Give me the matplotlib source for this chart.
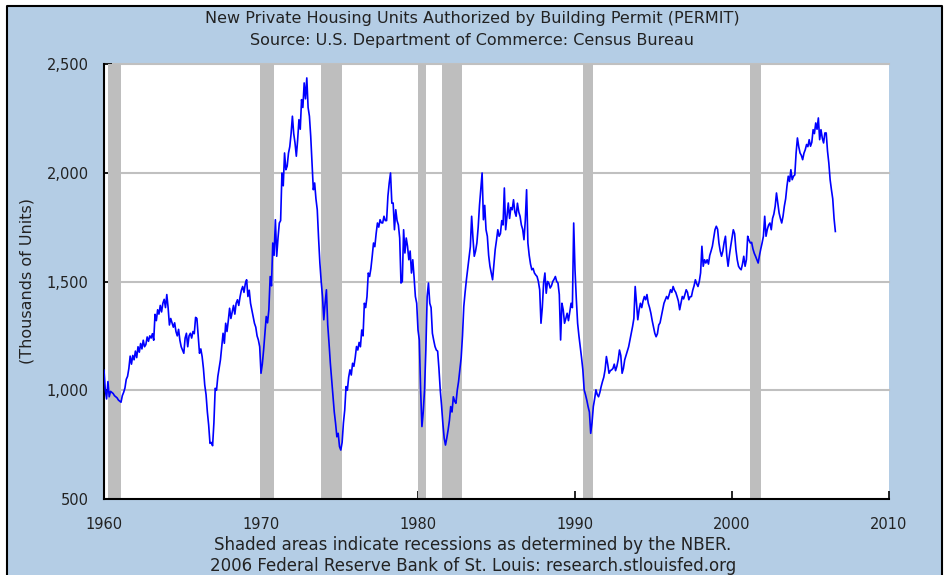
import matplotlib
matplotlib.use("Agg")
import matplotlib.pyplot as plt
import numpy as np
from matplotlib.patches import Rectangle
from matplotlib.ticker import FuncFormatter

# monthly permits, thousands of units, Jan 1960 .. Aug 2006
permits = [
    1092, 1000, 960, 1040, 970, 995, 990, 985, 975, 970, 965, 955,        # 1960
    950, 945, 975, 990, 1010, 1050, 1064, 1100, 1157, 1120, 1160, 1140,   # 1961
    1180, 1150, 1200, 1175, 1215, 1190, 1230, 1200, 1210, 1245, 1225, 1250,  # 1962
    1240, 1260, 1230, 1349, 1320, 1370, 1350, 1390, 1360, 1400, 1418, 1380,  # 1963
    1440, 1380, 1300, 1330, 1310, 1290, 1310, 1270, 1250, 1280, 1230, 1200,  # 1964
    1185, 1170, 1240, 1262, 1200, 1250, 1262, 1240, 1270, 1260, 1335, 1330,  # 1965
    1250, 1170, 1190, 1155, 1100, 1024, 980, 900, 840, 756, 760, 745,     # 1966
    850, 1009, 1000, 1063, 1100, 1140, 1200, 1262, 1216, 1308, 1270, 1320,  # 1967
    1377, 1330, 1360, 1390, 1350, 1400, 1416, 1390, 1430, 1460, 1477, 1450,  # 1968
    1490, 1508, 1431, 1460, 1400, 1370, 1340, 1308, 1290, 1250, 1231, 1200,  # 1969
    1078, 1120, 1185, 1260, 1339, 1310, 1370, 1523, 1480, 1677, 1620, 1784,  # 1970
    1616, 1700, 1769, 1780, 1999, 1940, 2091, 2014, 2030, 2090, 2120, 2180,  # 1971
    2260, 2180, 2137, 2076, 2150, 2244, 2200, 2336, 2300, 2413, 2340, 2436,  # 1972
    2300, 2260, 2168, 2050, 1922, 1953, 1880, 1830, 1700, 1585, 1500, 1431,  # 1973
    1324, 1400, 1462, 1300, 1216, 1124, 1050, 970, 900, 848, 786, 802,    # 1974
    741, 725, 760, 850, 909, 1017, 1000, 1060, 1094, 1070, 1124, 1110,    # 1975
    1150, 1201, 1185, 1220, 1200, 1277, 1250, 1400, 1380, 1430, 1539, 1523,  # 1976
    1560, 1616, 1677, 1660, 1720, 1769, 1750, 1784, 1770, 1769, 1800, 1780,  # 1977
    1780, 1892, 1953, 1999, 1860, 1861, 1738, 1830, 1780, 1760, 1700, 1493,  # 1978
    1500, 1738, 1631, 1700, 1662, 1600, 1640, 1539, 1600, 1520, 1431, 1400,  # 1979
    1277, 1231, 1002, 833, 900, 1002, 1185, 1431, 1493, 1400, 1380, 1262,  # 1980
    1230, 1201, 1185, 1180, 1100, 1002, 930, 848, 780, 748, 780, 817,     # 1981
    860, 925, 900, 970, 950, 940, 1000, 1040, 1094, 1150, 1250, 1385,     # 1982
    1450, 1508, 1560, 1616, 1660, 1800, 1700, 1616, 1640, 1677, 1750, 1850,  # 1983
    1922, 1999, 1784, 1850, 1738, 1708, 1620, 1570, 1540, 1508, 1580, 1647,  # 1984
    1690, 1738, 1708, 1720, 1780, 1760, 1930, 1738, 1800, 1861, 1790, 1840,  # 1985
    1830, 1876, 1820, 1800, 1860, 1820, 1800, 1760, 1740, 1692, 1780, 1922,  # 1986
    1677, 1620, 1580, 1554, 1560, 1539, 1530, 1523, 1500, 1462, 1308, 1380,  # 1987
    1493, 1539, 1446, 1500, 1493, 1470, 1480, 1500, 1510, 1523, 1500, 1493,  # 1988
    1440, 1231, 1400, 1370, 1308, 1330, 1354, 1320, 1360, 1400, 1380, 1769,  # 1989
    1554, 1420, 1308, 1250, 1201, 1150, 1094, 1002, 980, 955, 925, 900,   # 1990
    802, 850, 925, 960, 1002, 980, 970, 990, 1017, 1040, 1060, 1094,      # 1991
    1155, 1120, 1078, 1090, 1094, 1100, 1120, 1090, 1110, 1140, 1185, 1160,  # 1992
    1078, 1100, 1140, 1160, 1180, 1200, 1231, 1260, 1293, 1330, 1477, 1400,  # 1993
    1324, 1370, 1400, 1380, 1410, 1431, 1416, 1440, 1400, 1380, 1354, 1320,  # 1994
    1290, 1262, 1246, 1260, 1300, 1310, 1339, 1370, 1400, 1416, 1431, 1420,  # 1995
    1440, 1462, 1450, 1477, 1460, 1450, 1431, 1410, 1370, 1400, 1431, 1420,  # 1996
    1440, 1462, 1450, 1416, 1430, 1431, 1460, 1480, 1508, 1490, 1477, 1500,  # 1997
    1540, 1662, 1570, 1600, 1585, 1600, 1580, 1620, 1640, 1662, 1700, 1738,  # 1998
    1754, 1740, 1677, 1640, 1616, 1640, 1680, 1708, 1620, 1570, 1620, 1662,  # 1999
    1700, 1738, 1720, 1647, 1600, 1570, 1560, 1554, 1580, 1616, 1570, 1600,  # 2000
    1708, 1690, 1677, 1680, 1650, 1630, 1616, 1600, 1585, 1620, 1650, 1677,  # 2001
    1708, 1800, 1708, 1740, 1760, 1769, 1738, 1790, 1810, 1846, 1907, 1860,  # 2002
    1815, 1790, 1769, 1800, 1846, 1880, 1938, 1984, 1960, 2014, 1968, 1984,  # 2003
    1990, 2091, 2160, 2120, 2091, 2080, 2060, 2090, 2106, 2130, 2120, 2152,  # 2004
    2122, 2140, 2198, 2180, 2229, 2200, 2252, 2152, 2198, 2160, 2137, 2183,  # 2005
    2183, 2100, 2045, 1968, 1922, 1880, 1790, 1730,                       # 2006
]
start_year = 1960

# NBER recessions (start, end) as decimal years
rec_start = [1960 + 3/12, 1969 + 11/12, 1973 + 10/12, 1980.0, 1981 + 6/12, 1990 + 6/12, 2001 + 2/12]
rec_end = [1961 + 1/12, 1970 + 10/12, 1975 + 2/12, 1980 + 6/12, 1982 + 10/12, 1991 + 2/12, 2001 + 10/12]

x_ticks = [1960, 1970, 1980, 1990, 2000, 2010]
y_ticks = [500, 1000, 1500, 2000, 2500]

title1 = "New Private Housing Units Authorized by Building Permit (PERMIT)"
title2 = "Source: U.S. Department of Commerce: Census Bureau"
note1 = "Shaded areas indicate recessions as determined by the NBER."
note2 = "2006 Federal Reserve Bank of St. Louis: research.stlouisfed.org"

bg = "#b4cde5"
txt = "#222222"

fig = plt.figure(figsize=(9.44, 5.75), dpi=100, facecolor="white")
W, H = 944, 575
# blue panel with black border on left, top, right
fig.patches.append(Rectangle((7 / W, 0), (942 - 7) / W, (575 - 6) / H,
                             transform=fig.transFigure, facecolor=bg,
                             edgecolor="none", zorder=-5))
fig.lines.append(plt.Line2D([7 / W, 7 / W, 942 / W, 942 / W], [0, 1 - 6 / H, 1 - 6 / H, 0],
                            transform=fig.transFigure, color="black", lw=1.5, zorder=-4))

ax = fig.add_axes([104 / W, 1 - 499 / H, (889 - 104) / W, (499 - 64) / H])
ax.set_zorder(2)
ax.set_facecolor("white")

t = start_year + np.arange(len(permits)) / 12.0
for s, e in zip(rec_start, rec_end):
    ax.axvspan(s, e, color="#bebebe", lw=0, zorder=2)
ax.plot(t, permits, color="#0000ff", lw=1.2, zorder=3)

ax.set_xlim(1960, 2010)
ax.set_ylim(500, 2500)
ax.set_xticks(x_ticks)
ax.set_yticks(y_ticks)
ax.yaxis.set_major_formatter(FuncFormatter(lambda v, p: f"{int(v):,}"))
for v in y_ticks[1:]:
    ax.axhline(v, color="#c0c0c0", lw=1.5, zorder=1, clip_on=False)

for side in ["top", "right"]:
    ax.spines[side].set_visible(False)
ax.spines["left"].set_color("black")
ax.spines["bottom"].set_color("black")
ax.spines["left"].set_linewidth(1.5)
ax.spines["bottom"].set_linewidth(1.5)
ax.tick_params(direction="in", length=6, width=1.2, colors="black",
               labelcolor=txt, labelsize=10.5)
ax.tick_params(axis="x", pad=13)
ax.tick_params(axis="y", pad=11)

ax.set_ylabel("(Thousands of Units)", fontsize=11.5, color=txt)
ax.yaxis.set_label_coords(-0.088, 0.5)

fig.text(0.5, 1 - 18 / H, title1, ha="center", va="center", fontsize=11.5, color=txt)
fig.text(0.5, 1 - 40 / H, title2, ha="center", va="center", fontsize=11.5, color=txt)
fig.text(473 / W, 1 - 545 / H, note1, ha="center", va="center", fontsize=12, color=txt)
fig.text(473 / W, 1 - 566 / H, note2, ha="center", va="center", fontsize=12, color=txt)

fig.savefig("out.png", dpi=100, facecolor="white")
